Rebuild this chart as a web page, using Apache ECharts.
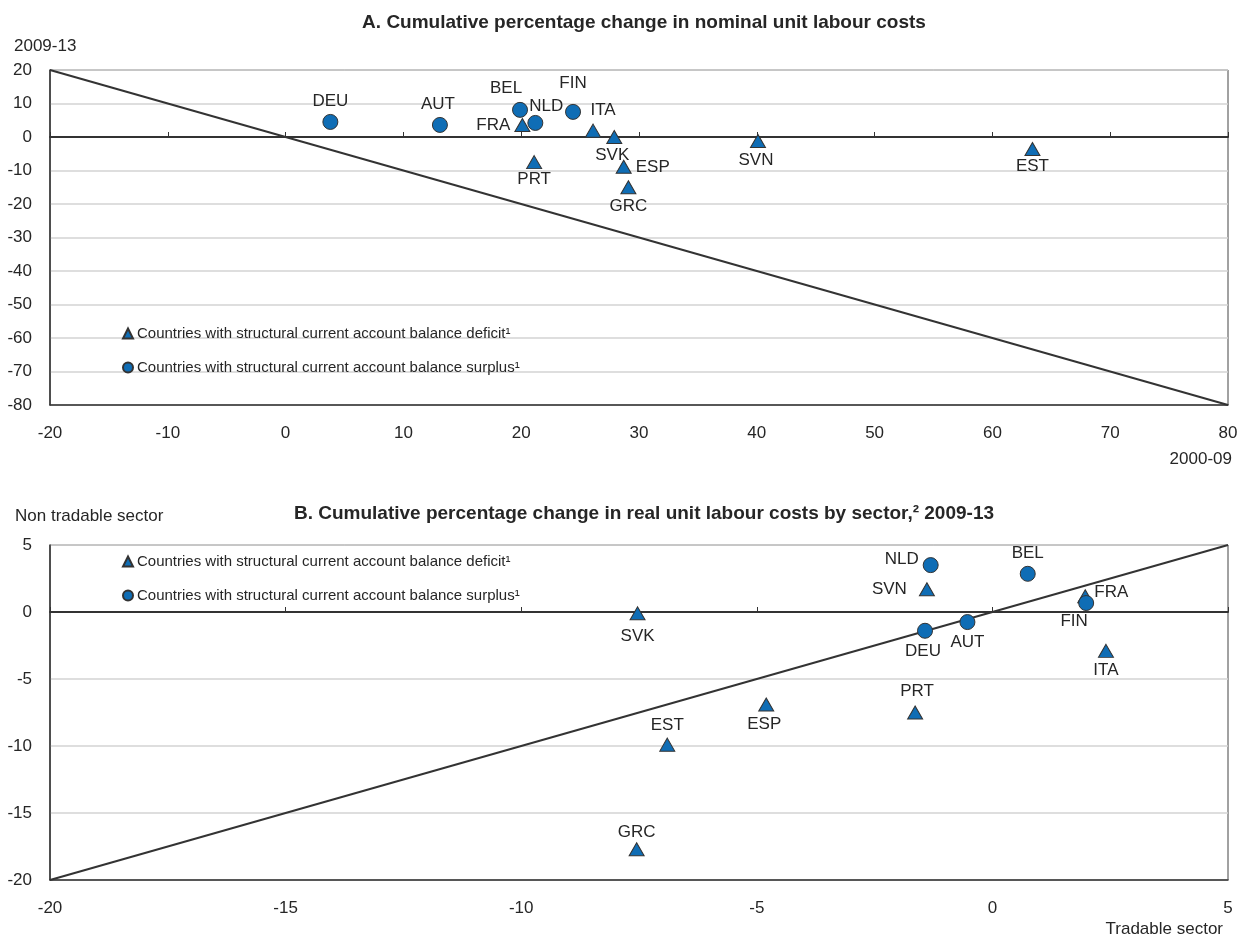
<!DOCTYPE html>
<html><head><meta charset="utf-8">
<script src="https://cdn.jsdelivr.net/npm/echarts@6/dist/echarts.min.js"></script>
<style>html,body{margin:0;padding:0;background:#fff}#c{width:1246px;height:937px}</style>
</head><body><div id="c"></div>
<script>
// Panel A: cumulative % change in nominal ULC, 2000-09 (x) vs 2009-13 (y)
const aDefNames = ['FRA','ITA','SVK','SVN','PRT','ESP','GRC','EST'];
const aDefX = [20.1, 26.1, 27.9, 40.1, 21.1, 28.7, 29.1, 63.4];
const aDefY = [3.6, 1.9, 0.0, -1.2, -7.5, -8.9, -15.0, -3.6];
const aSurNames = ['DEU','AUT','BEL','NLD','FIN'];
const aSurX = [3.8, 13.1, 19.9, 21.2, 24.4];
const aSurY = [4.5, 3.6, 8.1, 4.2, 7.5];
const aDiagonal = [[-20, 20], [80, -80]];
// Panel B: real ULC, tradable (x) vs non tradable (y), 2009-13
const bDefNames = ['SVN','FRA','SVK','ITA','PRT','ESP','EST','GRC'];
const bDefX = [-1.39, 1.97, -7.53, 2.41, -1.64, -4.8, -6.9, -7.55];
const bDefY = [1.7, 1.18, -0.1, -2.9, -7.5, -6.9, -9.9, -17.7];
const bSurNames = ['NLD','BEL','FIN','DEU','AUT'];
const bSurX = [-1.31, 0.75, 1.99, -1.43, -0.53];
const bSurY = [3.5, 2.85, 0.67, -1.4, -0.75];
const bDiagonal = [[-20, -20], [5, 5]];

const DEF = 'Countries with structural current account balance deficit\u00b9';
const SUR = 'Countries with structural current account balance surplus\u00b9';

// label placement (layout only)
const labA = {DEU:['top',[0,0]],AUT:['top',[-2,0]],BEL:['top',[-14,-1]],NLD:['top',[11,4]],FIN:['top',[0,-8]],
  FRA:['left',[0,0]],ITA:['top',[10,-1]],SVK:['bottom',[-2,-1]],SVN:['bottom',[-2,0]],PRT:['bottom',[0,-2]],
  ESP:['right',[0,0]],GRC:['bottom',[0,0]],EST:['bottom',[0,-2]]};
const labB = {NLD:['left',[0,-6]],BEL:['top',[0,0]],FIN:['bottom',[-12,-2]],DEU:['bottom',[-2,0]],AUT:['bottom',[0,0]],
  SVN:['left',[-8,0]],FRA:['right',[-3,-4]],SVK:['bottom',[0,4]],ITA:['bottom',[0,0]],PRT:['top',[2,-2]],
  ESP:['bottom',[-2,0]],EST:['top',[0,0]],GRC:['top',[0,3]]};

const FONT = '"Liberation Sans", Arial, Helvetica, sans-serif';
const FS = 17;
const BLUE = '#0f6db5';
const TXT = '#262626';

function pts(names, xs, ys, lab) {
  return names.map((n, i) => ({
    value: [xs[i], ys[i]], name: n,
    label: {position: lab[n][0], offset: lab[n][1]}
  }));
}
function scatter(name, sym, size, data, xi, yi) {
  return {
    type: 'scatter', name, symbol: sym, symbolSize: size, xAxisIndex: xi, yAxisIndex: yi, z: 5,
    itemStyle: {color: BLUE, opacity: 1, borderColor: '#333', borderWidth: 1},
    label: {show: true, formatter: p => p.name, fontFamily: FONT, fontSize: FS, color: TXT, distance: 4},
    data
  };
}
function diag(data, xi, yi) {
  return {type: 'line', name: 'diag', data, xAxisIndex: xi, yAxisIndex: yi, symbol: 'none', silent: true,
    lineStyle: {color: '#333', width: 2}, z: 3};
}
const axisLab = {fontFamily: FONT, fontSize: FS, color: TXT, margin: 18};
function xBottom(gi, min, max, iv) {
  return {type: 'value', gridIndex: gi, min, max, interval: iv, position: 'bottom',
    axisLine: {onZero: false, lineStyle: {color: '#333', width: 1.5}}, axisTick: {show: false},
    splitLine: {show: false}, axisLabel: Object.assign({}, axisLab, {margin: 20})};
}
function xZero(gi, min, max, iv) {
  return {type: 'value', gridIndex: gi, min, max, interval: iv, position: 'top',
    axisLine: {onZero: true, lineStyle: {color: '#333', width: 2}},
    axisTick: {show: true, inside: false, length: 5, lineStyle: {color: '#333', width: 1}},
    axisLabel: {show: false}, splitLine: {show: false}};
}
function yAx(gi, min, max, iv) {
  return {type: 'value', gridIndex: gi, min, max, interval: iv,
    axisLine: {show: true, onZero: false, lineStyle: {color: '#333', width: 1.5}}, axisTick: {show: false},
    splitLine: {show: true, lineStyle: {color: '#d3d3d3', width: 1.5}}, axisLabel: axisLab};
}
function legendAt(left, top) {
  return {left, top, orient: 'vertical', itemWidth: 10, itemHeight: 10, itemGap: 19,
    itemStyle: {opacity: 1},
    textStyle: {fontFamily: FONT, fontSize: 15, color: TXT, padding: [0, 0, 0, -1]},
    data: [{name: DEF, icon: 'triangle'}, {name: SUR, icon: 'circle'}]};
}
function txt(bold) {
  return {fontFamily: FONT, fontSize: bold ? 19 : FS, fontWeight: bold ? 'bold' : 'normal', color: TXT};
}

const chart = echarts.init(document.getElementById('c'), null, {renderer: 'canvas'});
chart.setOption({
  animation: false,
  backgroundColor: '#fff',
  title: [
    {text: 'A. Cumulative percentage change in nominal unit labour costs', left: 639, textAlign: 'center', top: 8, textStyle: txt(true)},
    {text: 'B. Cumulative percentage change in real unit labour costs by sector,\u00b2 2009-13', left: 639, textAlign: 'center', top: 499, textStyle: txt(true)},
    {text: '2009-13', left: 9, top: 33, textStyle: txt(false)},
    {text: '2000-09', right: 9, top: 446, textStyle: txt(false)},
    {text: 'Non tradable sector', left: 10, top: 503, textStyle: txt(false)},
    {text: 'Tradable sector', right: 18, top: 916, textStyle: txt(false)}
  ],
  legend: [legendAt(117, 321), legendAt(117, 549)],
  grid: [
    {left: 50, top: 70, width: 1178, height: 335, show: true, borderColor: '#444', borderWidth: 1, backgroundColor: 'transparent'},
    {left: 50, top: 545, width: 1178, height: 335, show: true, borderColor: '#444', borderWidth: 1, backgroundColor: 'transparent'}
  ],
  xAxis: [xBottom(0, -20, 80, 10), xZero(0, -20, 80, 10), xBottom(1, -20, 5, 5), xZero(1, -20, 5, 5)],
  yAxis: [yAx(0, -80, 20, 10), yAx(1, -20, 5, 5)],
  series: [
    diag(aDiagonal, 0, 0),
    scatter(DEF, 'triangle', [15, 13], pts(aDefNames, aDefX, aDefY, labA), 0, 0),
    scatter(SUR, 'circle', 15, pts(aSurNames, aSurX, aSurY, labA), 0, 0),
    diag(bDiagonal, 2, 1),
    scatter(DEF, 'triangle', [15, 13], pts(bDefNames, bDefX, bDefY, labB), 2, 1),
    scatter(SUR, 'circle', 15, pts(bSurNames, bSurX, bSurY, labB), 2, 1)
  ]
});
</script></body></html>
